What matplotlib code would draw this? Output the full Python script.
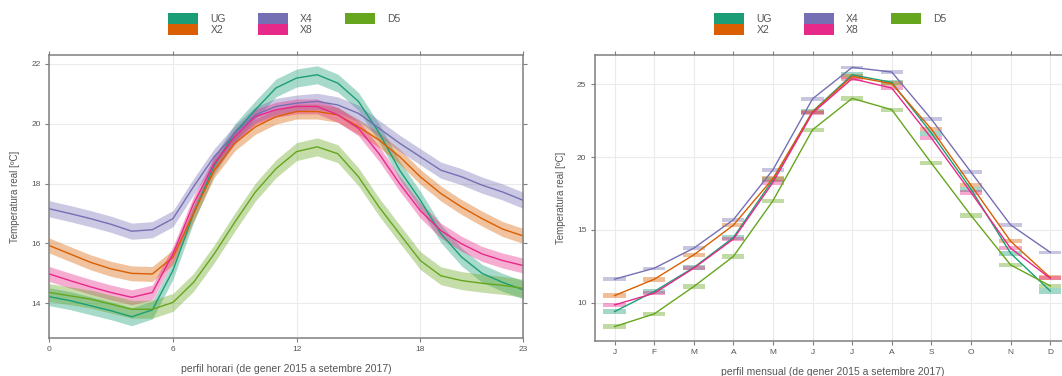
import numpy as np
import matplotlib
matplotlib.use("Agg")
import matplotlib.pyplot as plt
from matplotlib.patches import Rectangle

plt.rcParams["font.family"] = ["Liberation Sans", "DejaVu Sans"]

# series names and colours (Dark2)
names = ["UG", "X2", "X4", "X8", "D5"]
colors = ["#1B9E77", "#D95F02", "#7570B3", "#E7298A", "#66A61E"]

# hourly profile (mean temperature, degC)
hours = np.arange(24)
hour_ug = [14.22, 14.09, 13.92, 13.75, 13.55, 13.78, 15.1, 17.0, 18.6, 19.7, 20.47, 21.2,
           21.53, 21.64, 21.36, 20.75, 19.7, 18.45, 17.45, 16.33, 15.55, 15.0, 14.7, 14.45]
hour_x2 = [15.93, 15.65, 15.37, 15.15, 15.0, 14.98, 15.54, 17.0, 18.45, 19.35, 19.9, 20.24,
           20.41, 20.41, 20.3, 19.9, 19.46, 18.9, 18.23, 17.67, 17.22, 16.83, 16.48, 16.25]
hour_x4 = [17.16, 17.0, 16.83, 16.64, 16.41, 16.46, 16.83, 17.9, 18.9, 19.68, 20.3, 20.58,
           20.69, 20.75, 20.63, 20.35, 19.85, 19.35, 18.9, 18.45, 18.23, 17.95, 17.72, 17.44]
hour_x8 = [14.98, 14.76, 14.55, 14.36, 14.2, 14.36, 15.65, 17.33, 18.67, 19.57, 20.24, 20.47,
           20.58, 20.58, 20.3, 19.85, 19.0, 18.0, 17.1, 16.43, 15.99, 15.65, 15.43, 15.26]
hour_d5 = [14.36, 14.25, 14.14, 13.97, 13.8, 13.8, 14.03, 14.7, 15.65, 16.71, 17.72, 18.5,
           19.07, 19.23, 19.0, 18.23, 17.22, 16.32, 15.43, 14.92, 14.76, 14.67, 14.6, 14.5]
hour_ci = [0.3, 0.25, 0.27, 0.25, 0.3]

# monthly profile
months = np.arange(1, 13)
month_labels = ["J", "F", "M", "A", "M", "J", "J", "A", "S", "O", "N", "D"]
month_ug = [9.38, 10.76, 12.41, 14.47, 18.44, 23.14, 25.66, 25.14, 21.65, 17.8, 13.39, 10.8]
month_x2 = [10.48, 11.6, 13.28, 15.32, 18.53, 23.1, 25.55, 25.05, 21.93, 18.07, 14.22, 11.72]
month_x4 = [11.61, 12.36, 13.74, 15.69, 19.13, 24.01, 26.17, 25.85, 22.61, 18.97, 15.34, 13.46]
month_x8 = [9.84, 10.64, 12.36, 14.36, 18.26, 23.03, 25.39, 24.75, 21.31, 17.57, 13.74, 11.67]
month_d5 = [8.35, 9.22, 11.1, 13.17, 17.0, 21.88, 24.04, 23.26, 19.59, 15.99, 12.59, 11.15]
month_ci = [0.18, 0.15, 0.12, 0.15, 0.15]

hour_data = [hour_ug, hour_x2, hour_x4, hour_x8, hour_d5]
month_data = [month_ug, month_x2, month_x4, month_x8, month_d5]

W, H = 1062, 376
fig = plt.figure(figsize=(W / 100, H / 100), dpi=100)

def px_axes(x0, y0, x1, y1):
    return fig.add_axes([x0 / W, 1 - y1 / H, (x1 - x0) / W, (y1 - y0) / H])

ax1 = px_axes(49.3, 55.3, 523.3, 338)
ax2 = px_axes(594.7, 55.3, 1070, 341)

grey = "#7f7f7f"
for ax in (ax1, ax2):
    ax.set_facecolor("white")
    for s in ax.spines.values():
        s.set_color(grey)
        s.set_linewidth(1.1)
    ax.grid(True, color="#ebebeb", linewidth=0.8)
    ax.set_axisbelow(True)
    ax.tick_params(direction="out", length=3, width=0.8, color=grey,
                   labelsize=6, labelcolor="#555555", pad=3,
                   top=True, right=True, labeltop=False, labelright=False)
    ax.set_ylabel("Temperatura real [ºC]", fontsize=7, color="#555555", labelpad=8)

# hourly panel
for vals, c, ci in zip(hour_data, colors, hour_ci):
    v = np.array(vals)
    ax1.fill_between(hours, v - ci, v + ci, color=c, alpha=0.38, linewidth=0)
    ax1.plot(hours, v, color=c, linewidth=1.0)
ax1.set_xlim(0, 23)
ax1.set_ylim(12.84, 22.29)
ax1.set_xticks([0, 6, 12, 18, 23])
ax1.set_yticks([14, 16, 18, 20, 22])
ax1.set_xlabel("perfil horari (de gener 2015 a setembre 2017)", fontsize=7.5, color="#555555", labelpad=8)

# monthly panel
for vals, c, ci in zip(month_data, colors, month_ci):
    v = np.array(vals)
    ax2.bar(months, 2 * ci, bottom=v - ci, width=0.56, color=c, alpha=0.4, linewidth=0)
    ax2.plot(months, v, color=c, linewidth=1.0)
ax2.set_xlim(0.5, 12.5)
ax2.set_ylim(7.36, 27.0)
ax2.set_xticks(months)
ax2.set_xticklabels(month_labels)
ax2.set_yticks([10, 15, 20, 25])
ax2.set_xlabel("perfil mensual (de gener 2015 a setembre 2017)", fontsize=7.5, color="#555555", labelpad=8)

# legends above each panel (two stacked keys, two stacked keys, one key)
groups = [[0, 1], [2, 3], [4]]
offsets = [-118, -28.6, 59]
def draw_key(center):
    for grp, off in zip(groups, offsets):
        x0 = center + off
        for k, idx in enumerate(grp):
            y0 = 13.3 + 11 * k
            fig.patches.append(Rectangle((x0 / W, 1 - (y0 + 11) / H), 30 / W, 11 / H,
                                         transform=fig.transFigure, color=colors[idx],
                                         linewidth=0))
            fig.text((x0 + 42) / W, 1 - (y0 + 5.5) / H, names[idx], fontsize=7.5,
                     color="#555555", va="center", ha="left")

draw_key((49.3 + 523.3) / 2)
draw_key((594.7 + 1070) / 2)

fig.savefig("out.png", dpi=100, facecolor="white")
